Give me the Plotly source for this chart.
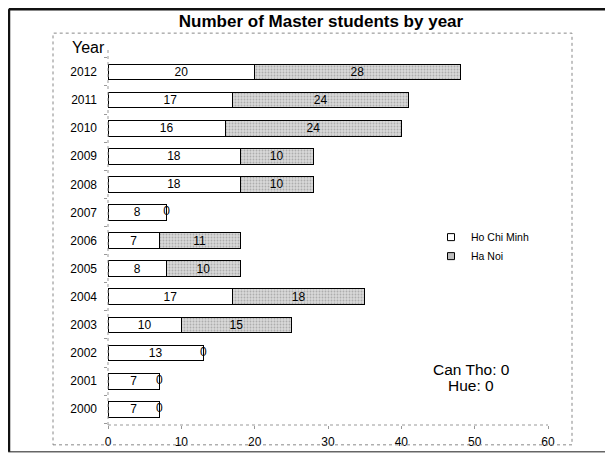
import plotly.graph_objects as go

years = ["2000", "2001", "2002", "2003", "2004", "2005", "2006",
         "2007", "2008", "2009", "2010", "2011", "2012"]
ho_chi_minh = [7, 7, 13, 10, 17, 8, 7, 8, 18, 18, 16, 17, 20]
ha_noi = [0, 0, 0, 15, 18, 10, 11, 0, 10, 10, 24, 24, 28]
x_ticks = [0, 10, 20, 30, 40, 50, 60]
series_names = ["Ho Chi Minh", "Ha Noi"]
title_text = "Number of Master students by year"
note_lines = ["Can Tho: 0", "Hue: 0"]

# page offset (browser body margin)
OFF = 8
W, H = 613 - OFF, 461 - OFF
L, R, T, B = 108, 548, 50, 428  # plot area in screen px


def px(x):
    return (x - L) / (R - L)


def py(y):
    return (B - y) / (B - T)


FONT = "Liberation Sans, Arial, sans-serif"

fig = go.Figure()
fig.add_trace(go.Bar(
    y=years, x=ho_chi_minh, orientation="h", name=series_names[0],
    marker=dict(color="white", line=dict(color="black", width=1)),
    text=[str(v) for v in ho_chi_minh], textposition="inside",
    insidetextanchor="middle", textangle=0, constraintext="none",
    textfont=dict(family=FONT, size=12, color="black"),
    width=0.56, showlegend=False,
))
fig.add_trace(go.Bar(
    y=years, x=ha_noi, orientation="h", name=series_names[1],
    marker=dict(color="#d2d2d2", line=dict(color="black", width=1),
                pattern=dict(shape=".", fgcolor="#adadad", bgcolor="#d9d9d9",
                             size=3, solidity=0.3, fillmode="replace")),
    text=[str(v) if v else "" for v in ha_noi], textposition="inside",
    insidetextanchor="middle", textangle=0, constraintext="none",
    textfont=dict(family=FONT, size=12, color="black"),
    width=0.56, showlegend=False,
))
zero_y = [y for y, v in zip(years, ha_noi) if v == 0]
zero_x = [h + v for h, v in zip(ho_chi_minh, ha_noi) if v == 0]
fig.add_trace(go.Scatter(
    y=zero_y, x=zero_x, mode="text", text=["0"] * len(zero_y),
    textfont=dict(family=FONT, size=12, color="black"),
    showlegend=False, hoverinfo="skip",
))
# legend entries (small squares like the original)
fig.add_trace(go.Scatter(
    x=[None], y=[None], mode="markers", name=series_names[0],
    marker=dict(symbol="square", size=7, color="white",
                line=dict(color="black", width=1)),
))
fig.add_trace(go.Scatter(
    x=[None], y=[None], mode="markers", name=series_names[1],
    marker=dict(symbol="square", size=7, color="#bdbdbd",
                line=dict(color="black", width=1)),
))

fig.update_layout(
    width=W, height=H, barmode="stack",
    margin=dict(l=L - OFF, r=OFF + W - R, t=T - OFF, b=OFF + H - B, pad=0),
    paper_bgcolor="white", plot_bgcolor="white",
    font=dict(family=FONT, size=12, color="black"),
    title=dict(text="<b>" + title_text + "</b>",
               x=(321 - OFF) / W, xanchor="center", xref="container",
               y=1 - (21 - OFF) / H, yanchor="middle", yref="container",
               font=dict(family=FONT, size=17, color="black")),
    showlegend=True,
    legend=dict(x=px(431), y=py(224), xanchor="left", yanchor="top",
                bgcolor="rgba(0,0,0,0)", font=dict(family=FONT, size=10.5),
                itemwidth=30, tracegroupgap=0, traceorder="normal"),
    xaxis=dict(range=[0, 60], tickvals=x_ticks, showgrid=False, zeroline=False,
               showline=False, ticks="outside", ticklen=3, tickcolor="#999",
               tickfont=dict(family=FONT, size=12), ticklabelstandoff=3),
    yaxis=dict(type="category", range=[-0.56, 12.78], showgrid=False,
               zeroline=False, showline=False, ticks="outside", ticklen=3,
               tickcolor="#999", tickson="boundaries",
               tickfont=dict(family=FONT, size=12), ticklabelstandoff=10),
)

shapes = [
    # outer frame (right/bottom thin grey, left/top thick black)
    dict(type="rect", xref="paper", yref="paper",
         x0=px(9), x1=px(606), y0=py(455), y1=py(9),
         line=dict(color="#666", width=1.5)),
    dict(type="line", xref="paper", yref="paper",
         x0=px(9), x1=px(606), y0=py(9), y1=py(9),
         line=dict(color="#111", width=2.5)),
    dict(type="line", xref="paper", yref="paper",
         x0=px(9), x1=px(9), y0=py(9), y1=py(455),
         line=dict(color="#111", width=2.5)),
    # plot area dotted frame
    dict(type="rect", xref="paper", yref="paper",
         x0=px(53), x1=px(572), y0=py(448), y1=py(33),
         line=dict(color="#888", width=1, dash="dot")),
    # dotted axis lines
    dict(type="line", xref="paper", yref="paper", x0=0, x1=1, y0=0, y1=0,
         line=dict(color="#999", width=1, dash="dot")),
    dict(type="line", xref="paper", yref="paper", x0=0, x1=0, y0=0, y1=1,
         line=dict(color="#999", width=1, dash="dot")),
]
fig.update_layout(shapes=shapes)

fig.add_annotation(x=px(88), y=py(47), xref="paper", yref="paper",
                   xanchor="center", yanchor="middle",
                   text="Year", showarrow=False,
                   font=dict(family=FONT, size=16, color="black"))
for i, line in enumerate(note_lines):
    fig.add_annotation(x=px(471), y=py(372 + 16 * i), xref="paper", yref="paper",
                       xanchor="center", yanchor="middle",
                       text=line, showarrow=False, align="center",
                       font=dict(family=FONT, size=15.5, color="black"))

fig.write_html("out.html")
